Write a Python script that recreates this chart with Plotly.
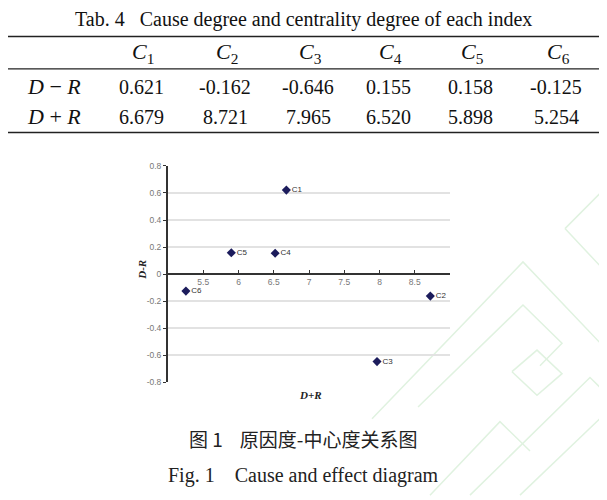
import plotly.graph_objects as go

W, H = 607, 500
OFF = 8  # page body margin shifts the figure

# table / chart data
index_names = ["C1", "C2", "C3", "C4", "C5", "C6"]
cause_degree = [0.621, -0.162, -0.646, 0.155, 0.158, -0.125]      # D-R
centrality_degree = [6.679, 8.721, 7.965, 6.520, 5.898, 5.254]     # D+R
x_ticks = [5.5, 6, 6.5, 7, 7.5, 8, 8.5]
y_ticks = [-0.8, -0.6, -0.4, -0.2, 0, 0.2, 0.4, 0.6, 0.8]


def px(x):
    return (x - OFF) / W


def py(y):
    return 1 - (y - OFF) / H


fig = go.Figure()

fig.add_trace(go.Scatter(
    x=centrality_degree, y=cause_degree,
    mode="markers+text",
    marker=dict(symbol="diamond", size=7, color="#1c1c5c"),
    text=index_names, textposition="middle right",
    textfont=dict(family="Liberation Sans, Arial", size=8, color="#333"),
    cliponaxis=False, showlegend=False,
))

serif = "Liberation Serif"
ann = []
shapes = []

# faint watermark pattern at lower right
wm = [
    [(372, 422), (523, 262), (607, 352)],
    [(418, 410), (523, 306), (562, 345), (540, 368)],
    [(512, 374), (537, 352), (562, 376), (537, 398), (512, 374)],
    [(430, 500), (500, 425), (530, 455)],
    [(470, 500), (590, 380), (607, 397)],
    [(520, 500), (607, 415)],
    [(565, 228), (600, 192), (607, 199)],
    [(565, 228), (600, 266), (607, 259)],
]
for seg in wm:
    path = "M " + " L ".join("%.4f,%.4f" % (px(a), py(b)) for a, b in seg)
    shapes.append(dict(type="path", xref="paper", yref="paper", path=path, layer="below",
                       line=dict(color="#e0f2e0", width=1.5)))

# table title and rules
ann.append(dict(x=px(303), y=py(15), text="Tab. 4 &nbsp;&nbsp;Cause degree and centrality degree of each index",
                font=dict(family=serif, size=20, color="#111")))
for yy, w in [(32, 1.5), (65, 1.2), (130, 1.5)]:
    shapes.append(dict(type="line", xref="paper", yref="paper", x0=px(5), x1=px(606),
                       y0=py(yy), y1=py(yy), line=dict(color="#222", width=w)))

col_x = [141, 225, 308, 388, 470, 556]
for i, name in enumerate(index_names):
    ann.append(dict(x=px(col_x[i] + 2), y=py(49), text="<i>C</i><sub>%s</sub>" % name[1:],
                    font=dict(family=serif, size=22, color="#111")))
    ann.append(dict(x=px(col_x[i]), y=py(83), text="%.3f" % cause_degree[i],
                    font=dict(family=serif, size=20, color="#111")))
    ann.append(dict(x=px(col_x[i]), y=py(114), text="%.3f" % centrality_degree[i],
                    font=dict(family=serif, size=20, color="#111")))
ann.append(dict(x=px(54), y=py(83), text="<i>D</i> \u2212 <i>R</i>", font=dict(family=serif, size=22, color="#111")))
ann.append(dict(x=px(54), y=py(114), text="<i>D</i> + <i>R</i>", font=dict(family=serif, size=22, color="#111")))

# axis titles
ann.append(dict(x=px(142), y=py(270), text="<b><i>D-R</i></b>", textangle=-90,
                font=dict(family=serif, size=11, color="#222")))
ann.append(dict(x=px(310), y=py(398), text="<b><i>D+R</i></b>",
                font=dict(family=serif, size=11, color="#222")))

# captions
ann.append(dict(x=px(303), y=py(442), text="图 1 &nbsp;&nbsp;&nbsp;原因度-中心度关系图",
                font=dict(family="Noto Sans CJK SC", size=19, color="#222")))
ann.append(dict(x=px(303), y=py(480), text="Fig. 1 &nbsp;&nbsp;&nbsp;Cause and effect diagram",
                font=dict(family=serif, size=20, color="#222")))

for a in ann:
    a.update(xref="paper", yref="paper", showarrow=False, xanchor="center", yanchor="middle")

y0, y1 = py(385), py(164)
fig.update_layout(
    width=W, height=H,
    margin=dict(l=0, r=0, t=0, b=0),
    paper_bgcolor="white", plot_bgcolor="rgba(0,0,0,0)",
    annotations=ann, shapes=shapes,
    xaxis=dict(domain=[px(168), px(450)], range=[5, 9], anchor="free", position=(y0 + y1) / 2,
               tickvals=x_ticks, ticktext=[("%g" % v) for v in x_ticks],
               showgrid=False, zeroline=False, showline=True, linecolor="#333", linewidth=1.5,
               ticks="inside", ticklen=3, tickcolor="#333",
               tickfont=dict(family="Liberation Sans, Arial", size=8.5, color="#777")),
    yaxis=dict(domain=[y0, y1], range=[-0.8, 0.8], tickvals=y_ticks,
               ticktext=[("%g" % v) for v in y_ticks],
               showgrid=True, gridcolor="#e2e2e2", gridwidth=1.5, zeroline=False,
               showline=True, linecolor="#333", linewidth=2,
               ticks="outside", ticklen=3, tickcolor="#333",
               tickfont=dict(family="Liberation Sans, Arial", size=8.5, color="#777")),
)

fig.write_html("out.html")
